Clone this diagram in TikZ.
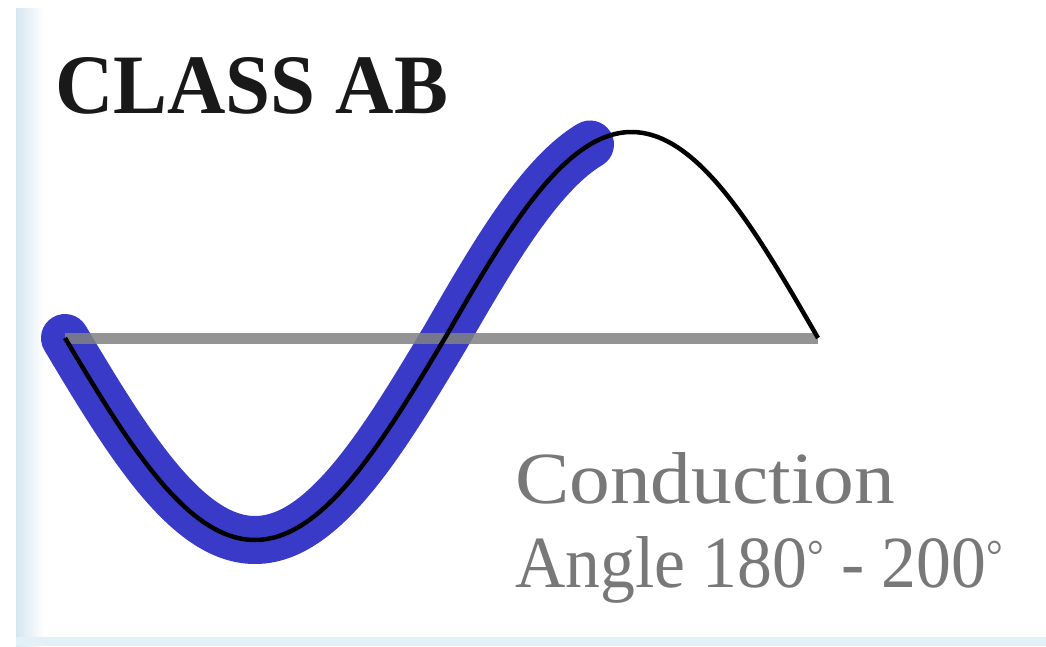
\documentclass[tikz,border=0pt]{standalone}
\usepackage{fontspec}
\setmainfont{Liberation Serif}
\usepackage{graphicx}
\definecolor{wave}{RGB}{58,58,200}
\definecolor{axisgray}{RGB}{130,130,130}
\definecolor{txtgray}{RGB}{120,120,120}
\definecolor{edgeblue}{RGB}{214,230,240}
\definecolor{bandblue}{RGB}{226,240,248}
\newcommand{\mydeg}{\smash{\raisebox{0.22em}{\scalebox{0.6}{°}}}}
\tikzset{
  conduct/.style={draw=wave, line width=48pt, line cap=round, line join=round},
  signal/.style={draw=black, line width=4.5pt, line join=round},
  baseaxis/.style={draw=axisgray, line width=11pt, opacity=0.85},
  title/.style={anchor=base west, inner sep=0pt, text=black!90},
  caption/.style={anchor=base west, inner sep=0pt, text=txtgray},
}
\begin{document}
\begin{tikzpicture}[x=1pt,y=-1pt]
\useasboundingbox (0,0) rectangle (1046,646);
\fill[white] (0,0) rectangle (1046,646);
\shade[left color=edgeblue, right color=white] (16,8) rectangle (44,646);
\fill[bandblue] (16,637) rectangle (1046,646);
% conduction (blue) portion
\draw[conduct] plot[domain=65:445, samples=80, smooth] (\x,{338+202*sin((\x-65)/380*180)})
  -- plot[domain=445:590, samples=40, smooth] (\x,{338-206*sin((\x-445)/373*180)});
% axis
\coordinate (a0) at (65,338);
\coordinate (a1) at (818,338);
\draw[baseaxis] (a0) -- (a1);
% full signal
\draw[signal] plot[domain=65:445, samples=80, smooth] (\x,{338+202*sin((\x-65)/380*180)})
  -- plot[domain=445:818, samples=80, smooth] (\x,{338-206*sin((\x-445)/373*180)});
% texts
\node[title] (t) at (55,113) {\resizebox{393pt}{56pt}{\bfseries CLASS AB}};
\node[caption] (c1) at (515,503) {\resizebox{380pt}{51pt}{Conduction}};
\node[caption] (c2) at (515,587) {\resizebox{488pt}{51pt}{Angle 180\mydeg\ - 200\mydeg}};
\end{tikzpicture}
\end{document}
